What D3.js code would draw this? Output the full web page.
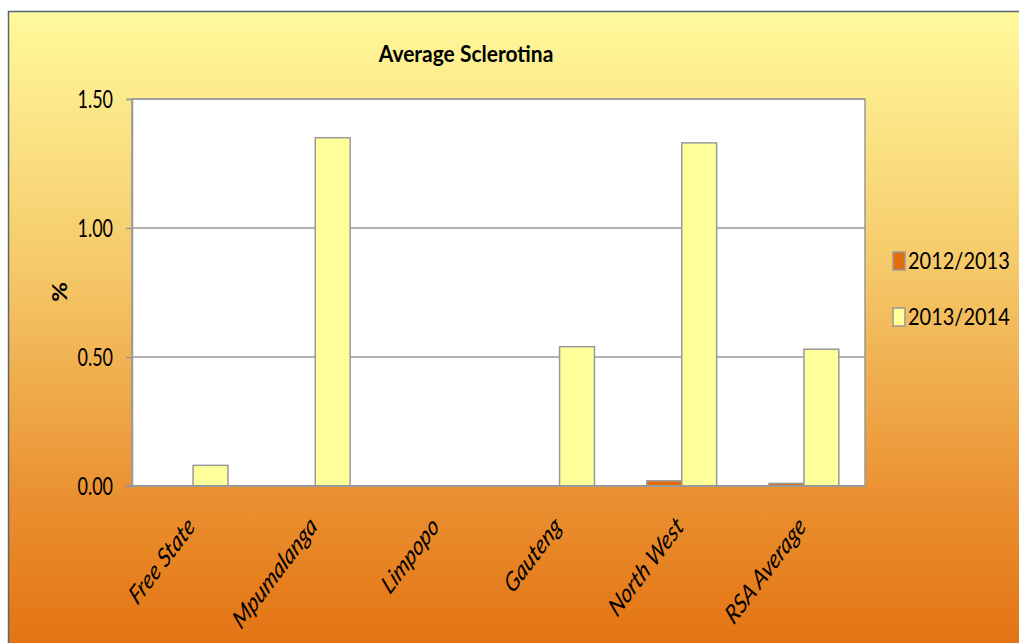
<!DOCTYPE html>
<html><head><meta charset="utf-8">
<script src="https://cdn.jsdelivr.net/npm/d3@7"></script>
<style>html,body{margin:0;padding:0;background:#fff;overflow:hidden}</style>
</head><body>
<svg id="c" width="1019" height="643"></svg>
<script>
const categories = ["Free State","Mpumalanga","Limpopo","Gauteng","North West","RSA Average"];
const seriesNames = ["2012/2013","2013/2014"];
const values2012 = [0, 0, 0, 0, 0.02, 0.01];
const values2013 = [0.08, 1.35, 0, 0.54, 1.33, 0.53];
const yTicks = [0, 0.5, 1.0, 1.5];
const colors = ["#E36C0A","#FFFF99"];

const FONT = "Lato, 'Open Sans', sans-serif";
const svg = d3.select("#c");
const defs = svg.append("defs");
const grad = defs.append("linearGradient").attr("id","bg").attr("x1",0).attr("y1",0).attr("x2",0).attr("y2",1);
grad.append("stop").attr("offset","0%").attr("stop-color","#FFFA9C");
grad.append("stop").attr("offset","40%").attr("stop-color","#F5C868");
grad.append("stop").attr("offset","75%").attr("stop-color","#EA9030");
grad.append("stop").attr("offset","100%").attr("stop-color","#E3700F");

svg.append("rect").attr("x",8.5).attr("y",11.5).attr("width",1030).attr("height",650)
  .attr("fill","url(#bg)").attr("stroke","#5a6478").attr("stroke-width",1.5);

// helper: text placed at (x,y) with vertical stretch and optional rotation
function stretchedText(parent, x, y, str, o){
  const g = parent.append("g")
    .attr("transform",`translate(${x},${y}) scale(${o.sx||1},${o.sy||1}) rotate(${o.rot||0})`);
  return g.append("text").attr("text-anchor",o.anchor||"start")
    .attr("font-family",FONT).attr("font-size",(o.size||20)+"px")
    .attr("font-weight",o.weight||"normal").attr("font-style",o.style||"normal")
    .attr("fill","#000").text(str);
}

const L=132, R=865, T=99, B=486;
const x0 = d3.scaleBand().domain(categories).range([L,R]).paddingInner(0).paddingOuter(0);
const bw = x0.bandwidth()/3.5;
const y = d3.scaleLinear().domain([0,1.5]).range([B,T]);

svg.append("rect").attr("x",L).attr("y",T).attr("width",R-L).attr("height",B-T)
  .attr("fill","#fff").attr("stroke","#999").attr("stroke-width",1.5);

svg.append("g").selectAll("line").data(yTicks.slice(1)).join("line")
  .attr("x1",L).attr("x2",R).attr("y1",d=>y(d)).attr("y2",d=>y(d))
  .attr("stroke","#999").attr("stroke-width",1.5);

const series = [values2012, values2013];
series.forEach((vals,si)=>{
  svg.append("g").selectAll("rect").data(vals).join("rect")
    .attr("x",(d,i)=>x0(categories[i]) + bw*0.75 + si*bw)
    .attr("y",d=>y(d))
    .attr("width",bw)
    .attr("height",d=>B-y(d))
    .attr("fill",colors[si])
    .attr("stroke",d=>d>0?"#999":"none").attr("stroke-width",1.5);
});

// y axis (ticks via d3 axis, labels stretched separately)
const yAxis = d3.axisLeft(y).tickValues(yTicks).tickFormat("").tickSize(6);
const ya = svg.append("g").attr("transform",`translate(${L},0)`).call(yAxis);
ya.select(".domain").attr("stroke","#999").attr("stroke-width",1.5);
ya.selectAll(".tick line").attr("stroke","#999").attr("stroke-width",1.5);
const fmt = d3.format(".2f");
const yl = svg.append("g");
yTicks.forEach(t=>stretchedText(yl, 113, y(t)+9, fmt(t), {size:18, sy:1.4, anchor:"end"}));

svg.append("line").attr("x1",L-6).attr("x2",R).attr("y1",B).attr("y2",B).attr("stroke","#999").attr("stroke-width",2);

// x labels
const xl = svg.append("g");
categories.forEach(c=>stretchedText(xl, x0(c)+x0.bandwidth()/2+3, B+42, c,
  {size:20, sy:1.33, rot:-45, anchor:"end", style:"italic"}));

// title
stretchedText(svg, 466, 62, "Average Sclerotina", {size:21, sy:1.13, anchor:"middle", weight:"bold"});

// y title
stretchedText(svg, 67, 292, "%", {size:20, sy:1.2, rot:-90, anchor:"middle", weight:"bold"});

// legend
const leg = svg.append("g");
seriesNames.forEach((s,i)=>{
  const yy = 252 + i*56;
  leg.append("rect").attr("x",893).attr("y",yy).attr("width",12).attr("height",18)
    .attr("fill",colors[i]).attr("stroke","#999").attr("stroke-width",1.5);
  stretchedText(leg, 908, yy+17, s, {size:20, sy:1.2});
});
</script>
</body></html>
